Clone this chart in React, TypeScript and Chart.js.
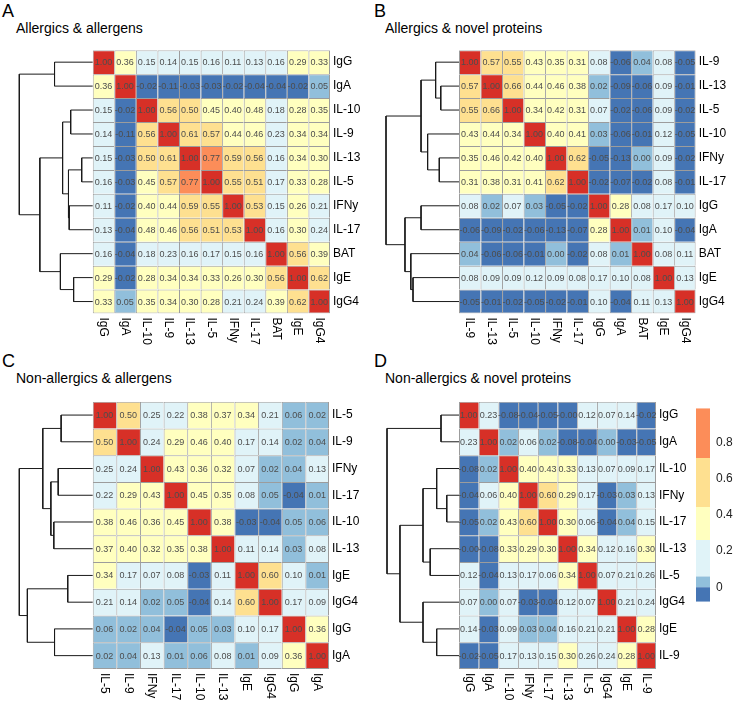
import React, { useEffect, useRef } from "react";
import { Chart, registerables } from "chart.js";

Chart.register(...registerables);

const FONT = '"Liberation Sans", Arial, Helvetica, sans-serif';

// RdYlBu-style bins, lowest to highest
const COLOURS = ["#4575b4", "#91bfdb", "#e0f3f8", "#ffffbf", "#fee090", "#fc8d59", "#d73027"];

type Tree = string | [Tree, Tree, number];

// ---------- A: Allergics & allergens ----------
const rowsA = ["IgG", "IgA", "IL-10", "IL-9", "IL-13", "IL-5", "IFNy", "IL-17", "BAT", "IgE", "IgG4"];
const corrA = [
  [1.0, 0.36, 0.15, 0.14, 0.15, 0.16, 0.11, 0.13, 0.16, 0.29, 0.33],
  [0.36, 1.0, -0.02, -0.11, -0.03, -0.03, -0.02, -0.04, -0.04, -0.02, 0.05],
  [0.15, -0.02, 1.0, 0.56, 0.5, 0.45, 0.4, 0.48, 0.18, 0.28, 0.35],
  [0.14, -0.11, 0.56, 1.0, 0.61, 0.57, 0.44, 0.46, 0.23, 0.34, 0.34],
  [0.15, -0.03, 0.5, 0.61, 1.0, 0.77, 0.59, 0.56, 0.16, 0.34, 0.3],
  [0.16, -0.03, 0.45, 0.57, 0.77, 1.0, 0.55, 0.51, 0.17, 0.33, 0.28],
  [0.11, -0.02, 0.4, 0.44, 0.59, 0.55, 1.0, 0.53, 0.15, 0.26, 0.21],
  [0.13, -0.04, 0.48, 0.46, 0.56, 0.51, 0.53, 1.0, 0.16, 0.3, 0.24],
  [0.16, -0.04, 0.18, 0.23, 0.16, 0.17, 0.15, 0.16, 1.0, 0.56, 0.39],
  [0.29, -0.02, 0.28, 0.34, 0.34, 0.33, 0.26, 0.3, 0.56, 1.0, 0.62],
  [0.33, 0.05, 0.35, 0.34, 0.3, 0.28, 0.21, 0.24, 0.39, 0.62, 1.0],
];
const treeA: Tree = [
  ["IgG", "IgA", 0.52],
  [
    [["IL-10", "IL-9", 0.3], [["IL-13", "IL-5", 0.15], ["IFNy", "IL-17", 0.32], 0.33], 0.41],
    ["BAT", ["IgE", "IgG4", 0.26], 0.44],
    0.72,
  ],
  1.0,
];
const breaksA = [0, 0.065, 0.255, 0.495, 0.72, 0.95];

// ---------- B: Allergics & novel proteins ----------
const rowsB = ["IL-9", "IL-13", "IL-5", "IL-10", "IFNy", "IL-17", "IgG", "IgA", "BAT", "IgE", "IgG4"];
const corrB = [
  [1.0, 0.57, 0.55, 0.43, 0.35, 0.31, 0.08, -0.06, 0.04, 0.08, -0.05],
  [0.57, 1.0, 0.66, 0.44, 0.46, 0.38, 0.02, -0.09, -0.06, 0.09, -0.01],
  [0.55, 0.66, 1.0, 0.34, 0.42, 0.31, 0.07, -0.02, -0.06, 0.09, -0.02],
  [0.43, 0.44, 0.34, 1.0, 0.4, 0.41, 0.03, -0.06, -0.01, 0.12, -0.05],
  [0.35, 0.46, 0.42, 0.4, 1.0, 0.62, -0.05, -0.13, 0.0, 0.09, -0.02],
  [0.31, 0.38, 0.31, 0.41, 0.62, 1.0, -0.02, -0.07, -0.02, 0.08, -0.01],
  [0.08, 0.02, 0.07, 0.03, -0.05, -0.02, 1.0, 0.28, 0.08, 0.17, 0.1],
  [-0.06, -0.09, -0.02, -0.06, -0.13, -0.07, 0.28, 1.0, 0.01, 0.1, -0.04],
  [0.04, -0.06, -0.06, -0.01, 0.0, -0.02, 0.08, 0.01, 1.0, 0.08, 0.11],
  [0.08, 0.09, 0.09, 0.12, 0.09, 0.08, 0.17, 0.1, 0.08, 1.0, 0.13],
  [-0.05, -0.01, -0.02, -0.05, -0.02, -0.01, 0.1, -0.04, 0.11, 0.13, 1.0],
];
const treeB: Tree = [
  [["IL-9", ["IL-13", "IL-5", 0.25], 0.32], ["IL-10", ["IFNy", "IL-17", 0.27], 0.43], 0.52],
  [["IgG", "IgA", 0.52], ["BAT", ["IgE", "IgG4", 0.63], 0.66], 0.74],
  1.0,
];
const breaksB = [0, 0.065, 0.255, 0.495, 0.72, 0.95];

// ---------- C: Non-allergics & allergens ----------
const rowsC = ["IL-5", "IL-9", "IFNy", "IL-17", "IL-10", "IL-13", "IgE", "IgG4", "IgG", "IgA"];
const corrC = [
  [1.0, 0.5, 0.25, 0.22, 0.38, 0.37, 0.34, 0.21, 0.06, 0.02],
  [0.5, 1.0, 0.24, 0.29, 0.46, 0.4, 0.17, 0.14, 0.02, 0.04],
  [0.25, 0.24, 1.0, 0.43, 0.36, 0.32, 0.07, 0.02, 0.04, 0.13],
  [0.22, 0.29, 0.43, 1.0, 0.45, 0.35, 0.08, 0.05, -0.04, 0.01],
  [0.38, 0.46, 0.36, 0.45, 1.0, 0.38, -0.03, -0.04, 0.05, 0.06],
  [0.37, 0.4, 0.32, 0.35, 0.38, 1.0, 0.11, 0.14, 0.03, 0.08],
  [0.34, 0.17, 0.07, 0.08, -0.03, 0.11, 1.0, 0.6, 0.1, 0.01],
  [0.21, 0.14, 0.02, 0.05, -0.04, 0.14, 0.6, 1.0, 0.17, 0.09],
  [0.06, 0.02, 0.04, -0.04, 0.05, 0.03, 0.1, 0.17, 1.0, 0.36],
  [0.02, 0.04, 0.13, 0.01, 0.06, 0.08, 0.01, 0.09, 0.36, 1.0],
];
const treeC: Tree = [
  [["IL-5", "IL-9", 0.43], [["IFNy", "IL-17", 0.47], ["IL-10", "IL-13", 0.53], 0.57], 0.68],
  [["IgE", "IgG4", 0.34], ["IgG", "IgA", 0.52], 0.89],
  1.0,
];
const breaksC = [0, 0.065, 0.255, 0.48, 0.72, 0.95];

// ---------- D: Non-allergics & novel proteins ----------
const rowsD = ["IgG", "IgA", "IL-10", "IFNy", "IL-17", "IL-13", "IL-5", "IgG4", "IgE", "IL-9"];
const corrD = [
  [1.0, 0.23, -0.08, -0.04, -0.05, -0.001, 0.12, 0.07, 0.14, -0.02],
  [0.23, 1.0, 0.02, 0.06, 0.02, -0.08, -0.04, 0.0, -0.03, -0.05],
  [-0.08, 0.02, 1.0, 0.4, 0.43, 0.33, 0.13, 0.07, 0.09, 0.17],
  [-0.04, 0.06, 0.4, 1.0, 0.6, 0.29, 0.17, -0.03, 0.03, 0.13],
  [-0.05, 0.02, 0.43, 0.6, 1.0, 0.3, 0.06, -0.04, 0.04, 0.15],
  [-0.001, -0.08, 0.33, 0.29, 0.3, 1.0, 0.34, 0.12, 0.16, 0.3],
  [0.12, -0.04, 0.13, 0.17, 0.06, 0.34, 1.0, 0.07, 0.21, 0.26],
  [0.07, 0.0, 0.07, -0.03, -0.04, 0.12, 0.07, 1.0, 0.21, 0.24],
  [0.14, -0.03, 0.09, 0.03, 0.04, 0.16, 0.21, 0.21, 1.0, 0.28],
  [-0.02, -0.05, 0.17, 0.13, 0.15, 0.3, 0.26, 0.24, 0.28, 1.0],
];
const treeD: Tree = [
  ["IgG", "IgA", 0.25],
  [
    [["IL-10", ["IFNy", "IL-17", 0.17], 0.31], ["IL-13", "IL-5", 0.4], 0.5],
    ["IgG4", ["IgE", "IL-9", 0.31], 0.5],
    0.82,
  ],
  1.0,
];
const breaksD = [0, 0.06, 0.261, 0.444, 0.715, 0.99];

// colour key
const legendBreaks = [-0.08, 0, 0.06, 0.261, 0.444, 0.715, 0.99];
const legendTicks = [0, 0.2, 0.4, 0.6, 0.8];

function colourFor(v: number, breaks: number[]) {
  let k = 0;
  while (k < breaks.length && v >= breaks[k]) k++;
  return COLOURS[k];
}

function dendroPoints(tree: Tree, rows: string[]) {
  const pts: { x: number | null; y: number | null }[] = [];
  const walk = (node: Tree): { y: number; h: number } => {
    if (typeof node === "string") return { y: rows.indexOf(node) + 0.5, h: 0 };
    const a = walk(node[0]);
    const b = walk(node[1]);
    const h = node[2];
    pts.push({ x: -a.h, y: a.y }, { x: -h, y: a.y }, { x: -h, y: b.y }, { x: -b.h, y: b.y }, { x: null, y: null });
    return { y: (a.y + b.y) / 2, h };
  };
  walk(tree);
  return pts;
}

interface PanelSpec {
  rows: string[];
  values: number[][];
  tree: Tree;
  breaks: number[];
  left: number;
  top: number;
  width: number;
  height: number;
  padLeft: number;
  padTop: number;
  padBottom: number;
  labelW: number;
  dendroW: number;
}

function Heatmap({ p }: { p: PanelSpec }) {
  const ref = useRef<HTMLCanvasElement>(null);
  useEffect(() => {
    const n = p.rows.length;
    const cellsW = p.width - p.padLeft - p.labelW;
    const datasets: any[] = p.rows.map((r, i) => ({
      type: "bar",
      label: r,
      data: p.rows.map(() => [i, i + 1]),
      backgroundColor: p.values[i].map((v) => colourFor(v, p.breaks)),
      borderColor: "#9c9c9c",
      borderWidth: (c: any) => ({ top: 1, left: 1, right: c.dataIndex === n - 1 ? 1 : 0, bottom: i === n - 1 ? 1 : 0 }),
      borderSkipped: false,
      grouped: false,
      barPercentage: 1,
      categoryPercentage: 1,
      inflateAmount: 0,
      xAxisID: "x",
      yAxisID: "y",
      order: 2,
    }));
    datasets.push({
      type: "line",
      data: dendroPoints(p.tree, p.rows),
      xAxisID: "xd",
      yAxisID: "y",
      borderColor: "#1a1a1a",
      borderWidth: 1,
      pointRadius: 0,
      tension: 0,
      spanGaps: false,
      clip: false,
      order: 1,
    });

    const textPlugin = {
      id: "cellText",
      afterDatasetsDraw(chart: any) {
        const ctx = chart.ctx;
        ctx.save();
        ctx.font = `9px ${FONT}`;
        ctx.fillStyle = "#4d4d4d";
        ctx.textAlign = "center";
        ctx.textBaseline = "middle";
        p.rows.forEach((_, i) => {
          const meta = chart.getDatasetMeta(i);
          meta.data.forEach((el: any, j: number) => {
            const { x, y, base } = el.getProps(["x", "y", "base"], true);
            ctx.fillText(p.values[i][j].toFixed(2), x, (y + base) / 2 + 0.5);
          });
        });
        const xs = chart.scales.x;
        ctx.font = `12px ${FONT}`;
        ctx.fillStyle = "#000";
        ctx.textAlign = "left";
        ctx.textBaseline = "middle";
        p.rows.forEach((c, j) => {
          ctx.save();
          ctx.translate(xs.getPixelForValue(j), chart.chartArea.bottom + 4);
          ctx.rotate(Math.PI / 2);
          ctx.fillText(c, 0, 0);
          ctx.restore();
        });
        ctx.restore();
      },
    };

    const chart = new Chart(ref.current as HTMLCanvasElement, {
      type: "bar",
      data: { labels: p.rows, datasets },
      options: {
        responsive: false,
        animation: false,
        layout: { padding: { left: p.padLeft, top: p.padTop, bottom: p.padBottom, right: 0 } },
        plugins: { legend: { display: false }, tooltip: { enabled: false }, title: { display: false } },
        events: [],
        scales: {
          x: { type: "category", display: false, offset: true, grid: { display: false } },
          xd: {
            type: "linear",
            axis: "x",
            display: false,
            offset: false,
            grid: { offset: false },
            min: 0,
            max: (1.0 * cellsW) / p.dendroW,
          },
          y: {
            type: "linear",
            position: "right",
            min: 0,
            max: n,
            reverse: true,
            grid: { display: false, drawTicks: false },
            border: { display: false },
            afterBuildTicks: (s: any) => {
              s.ticks = p.rows.map((_, i) => ({ value: i + 0.5 }));
            },
            afterFit: (s: any) => {
              s.width = p.labelW;
            },
            ticks: {
              autoSkip: false,
              padding: 3,
              color: "#000",
              font: { family: FONT, size: 12 },
              callback: (_v: any, i: number) => p.rows[i],
            },
          },
        } as any,
      },
      plugins: [textPlugin],
    } as any);
    return () => chart.destroy();
  }, [p]);
  return (
    <canvas
      ref={ref}
      width={p.width}
      height={p.height}
      style={{ position: "absolute", left: p.left, top: p.top, width: p.width, height: p.height }}
    />
  );
}

function ColourKey() {
  const ref = useRef<HTMLCanvasElement>(null);
  useEffect(() => {
    const datasets = COLOURS.slice(0, legendBreaks.length - 1).map((c, k) => ({
      data: [[legendBreaks[k], legendBreaks[k + 1]]],
      backgroundColor: c,
      borderWidth: 0,
      grouped: false,
      barPercentage: 1,
      categoryPercentage: 1,
      inflateAmount: 0,
    }));
    const chart = new Chart(ref.current as HTMLCanvasElement, {
      type: "bar",
      data: { labels: [""], datasets },
      options: {
        responsive: false,
        animation: false,
        events: [],
        layout: { padding: { left: 4, top: 7, bottom: 8, right: 0 } },
        plugins: { legend: { display: false }, tooltip: { enabled: false } },
        scales: {
          x: { display: false, grid: { display: false } },
          y: {
            position: "right",
            min: legendBreaks[0],
            max: legendBreaks[legendBreaks.length - 1],
            grid: { display: false, drawTicks: false },
            border: { display: false },
            afterBuildTicks: (s: any) => {
              s.ticks = legendTicks.map((v) => ({ value: v }));
            },
            afterFit: (s: any) => {
              s.width = 35;
            },
            ticks: { padding: 6, color: "#222", font: { family: FONT, size: 12 } },
          },
        } as any,
      },
    } as any);
    return () => chart.destroy();
  }, []);
  return (
    <canvas ref={ref} width={53} height={220} style={{ position: "absolute", left: 692, top: 395, width: 53, height: 220 }} />
  );
}

const panels: PanelSpec[] = [
  { rows: rowsA, values: corrA, tree: treeA, breaks: breaksA, left: 0, top: 40, width: 372, height: 320, padLeft: 92.7, padTop: 6, padBottom: 46.5, labelW: 42, dendroW: 73.4 },
  { rows: rowsB, values: corrB, tree: treeB, breaks: breaksB, left: 372, top: 40, width: 373, height: 320, padLeft: 87, padTop: 6, padBottom: 46.5, labelW: 49.3, dendroW: 73 },
  { rows: rowsC, values: corrC, tree: treeC, breaks: breaksC, left: 0, top: 390, width: 372, height: 311, padLeft: 92.7, padTop: 11.7, padBottom: 32, labelW: 43, dendroW: 73.4 },
  { rows: rowsD, values: corrD, tree: treeD, breaks: breaksD, left: 372, top: 390, width: 320, height: 311, padLeft: 87, padTop: 11.7, padBottom: 32, labelW: 36, dendroW: 72 },
];

const headings = [
  { letter: "A", title: "Allergics & allergens", x: 2, tx: 16, y: 1.8 },
  { letter: "B", title: "Allergics & novel proteins", x: 374, tx: 385, y: 1.8 },
  { letter: "C", title: "Non-allergics & allergens", x: 2, tx: 16, y: 351.8 },
  { letter: "D", title: "Non-allergics & novel proteins", x: 374, tx: 385, y: 351.8 },
];

export default function App() {
  return (
    <div
      style={{
        position: "absolute",
        left: 0,
        top: 0,
        width: 745,
        height: 701,
        overflow: "hidden",
        background: "#fff",
        fontFamily: FONT,
        color: "#000",
      }}
    >
      {headings.map((h) => (
        <React.Fragment key={h.letter}>
          <div style={{ position: "absolute", left: h.x, top: h.y, fontSize: 18, lineHeight: "18px", whiteSpace: "nowrap" }}>
            {h.letter}
          </div>
          <div style={{ position: "absolute", left: h.tx, top: h.y + 19.4, fontSize: 14, lineHeight: "14px", whiteSpace: "nowrap" }}>
            {h.title}
          </div>
        </React.Fragment>
      ))}
      {panels.map((p, i) => (
        <Heatmap key={i} p={p} />
      ))}
      <ColourKey />
    </div>
  );
}
